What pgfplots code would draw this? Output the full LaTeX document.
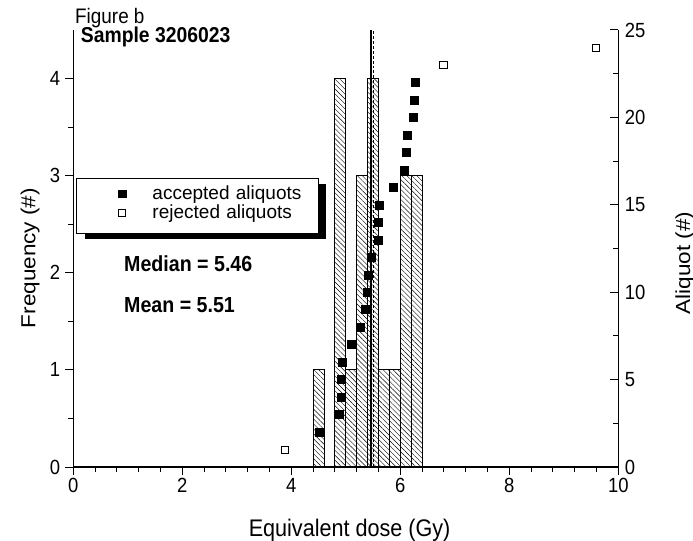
\documentclass[border=0pt]{standalone}
\usepackage{fontspec}
\setmainfont{Liberation Sans}[FakeStretch=0.9]
\newfontfamily\rotfont{Liberation Sans}[FakeStretch=1.11]
\newfontfamily\legfont{Liberation Sans}
\usepackage{pgfplots}
\pgfplotsset{compat=1.18}
\usetikzlibrary{patterns.meta,shadows}
\pgfplotsset{
  legacc/.style={legend image code/.code={\path (-45bp,0bp) (30bp,0bp); \draw[##1, mark size=3.7bp] plot coordinates {(0bp,6bp)};}},
  legrej/.style={legend image code/.code={\path (-45bp,0bp) (30bp,0bp); \draw[##1, mark size=3.5bp] plot coordinates {(0bp,6bp)};}},
}

\begin{document}
\begin{tikzpicture}[font=\fontsize{20.5bp}{24bp}\selectfont]
\path[use as bounding box] (-73.3bp,-74bp) rectangle (619.7bp,467bp);
\pgfplotsset{
  common/.style={
    scale only axis, width=545bp, height=437bp,
    xmin=0, xmax=10,
    /pgf/number format/assume math mode=true,
    every tick/.style={black, line width=1bp},
    axis line style={line width=1.2bp},
    major tick length=8bp, minor tick length=5bp,
    tick label style={font=\fontsize{20.5bp}{24bp}\selectfont},
  }
}
\begin{axis}[common,
  ymin=0, ymax=4.5,
  axis x line*=bottom, axis y line*=left,
  tick align=outside,
  xtick={0,2,4,6,8,10}, minor x tick num=4,
  ytick={0,1,2,3,4}, minor y tick num=1,
  yticklabel style={inner xsep=5bp},
  xlabel={Equivalent dose (Gy)},
  ylabel={Frequency (\#)},
  xlabel style={at={(axis description cs:0.507,-0.158)}, anchor=base, font=\fontsize{24bp}{28bp}\selectfont},
  ylabel style={at={(axis description cs:-0.0697,0.478)}, anchor=base, rotate=0, font=\rotfont\fontsize{20.3bp}{24bp}\selectfont},
]
\addplot[ybar interval, draw=black, line width=0.9bp,
  pattern={Lines[angle=-45,distance=3.5bp,line width=0.4bp]}] coordinates {
  (4.4,1) (4.6,0) (4.8,4) (5.0,1) (5.2,3) (5.4,4) (5.6,1) (5.8,1) (6.0,3) (6.2,3) (6.4,0)
};
\addplot[black, line width=1.5bp] coordinates {(5.46,0) (5.46,4.5)};
\addplot[black, line width=0.6bp, densely dashed] coordinates {(5.51,0) (5.51,4.5)};
\end{axis}

\begin{axis}[common,
  ymin=0, ymax=25,
  hide x axis, axis y line*=right,
  tick align=inside,
  ytick={0,5,10,15,20,25}, minor y tick num=1,
  yticklabel style={xshift=3bp},
  ylabel={Aliquot (\#)},
  ylabel style={at={(axis description cs:1.1316,0.467)}, anchor=base, rotate=0, font=\rotfont\fontsize{20.3bp}{24bp}\selectfont},
  legend style={at={(axis description cs:0.0055,0.6613)}, anchor=north west,
    draw=black, line width=0.8bp, fill=white,
    drop shadow={shadow xshift=8bp, shadow yshift=-6bp, opacity=1, fill=black},
    inner xsep=0pt, inner ysep=9bp, row sep=0pt, column sep=0pt,
    font=\legfont\fontsize{19bp}{23bp}\selectfont,
    nodes={inner sep=0pt, text height=12.5bp, text depth=6bp, text width=166bp, align=left},
    cells={anchor=base west}},
]
\addplot[only marks, mark=square*, mark size=4bp,
  mark options={fill=black, draw=black, line width=0.4bp}, legacc]
  coordinates {
  (4.51,2) (4.88,3) (4.91,4) (4.92,5) (4.93,6) (5.09,7) (5.26,8) (5.35,9)
  (5.39,10) (5.42,11) (5.46,12) (5.59,13) (5.60,14) (5.62,15) (5.87,16)
  (6.08,17) (6.10,18) (6.13,19) (6.23,20) (6.25,21) (6.28,22)
};
\addplot[only marks, mark=square, mark size=3.6bp,
  mark options={draw=black, fill=white, line width=0.6bp}, legrej]
  coordinates {(3.88,1) (6.79,23) (9.58,24)};
\legend{accepted aliquots, rejected aliquots}
\end{axis}

\node[anchor=base west, inner sep=0pt, font=\fontsize{21bp}{25bp}\selectfont] at (1.7bp,443.5bp) {Figure b};
\node[anchor=base west, inner sep=0pt, font=\fontsize{21.5bp}{26bp}\selectfont\bfseries] at (7.4bp,424bp) {Sample 3206023};
\node[anchor=base west, inner sep=0pt, font=\fontsize{21.8bp}{26bp}\selectfont\bfseries] at (50.7bp,195.5bp) {Median = 5.46};
\node[anchor=base west, inner sep=0pt, font=\fontsize{21.8bp}{26bp}\selectfont\bfseries] at (50.7bp,154bp) {Mean = 5.51};
\end{tikzpicture}
\end{document}
